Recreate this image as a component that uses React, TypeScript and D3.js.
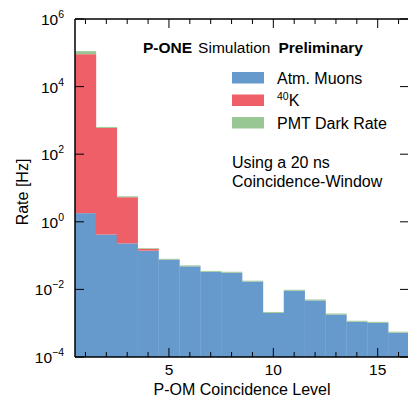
import * as d3 from "d3";

const levels = [1, 2, 3, 4, 5, 6, 7, 8, 9, 10, 11, 12, 13, 14, 15, 16];
const muons = [1.8, 0.42, 0.23, 0.14, 0.076, 0.048, 0.033, 0.031, 0.017, 0.002, 0.0091, 0.0047, 0.0018, 0.0011, 0.00102, 0.00052];
const k40 = [91000, 600, 5.1, 0.018, 0.0004, 0.0003, 0.0002, 0.0002, 0.0001, 0.00002, 0.00005, 0.00003, 0.00001, 0.00001, 0.00001, 0.000005];
const dark = [21000, 40, 0.35, 0.008, 0.004, 0.003, 0.002, 0.002, 0.001, 0.00013, 0.0006, 0.0003, 0.00012, 0.00007, 0.00007, 0.000035];

const series = [
  { name: "Atm. Muons", values: muons, color: "#6699cc" },
  { name: "40K", values: k40, color: "#ee5f67" },
  { name: "PMT Dark Rate", values: dark, color: "#99c794" },
];

const yTicks = [6, 4, 2, 0, -2, -4];
const xMajor = [5, 10, 15];

const W = 408;
const H = 401;
const font = "'Liberation Sans', Arial, sans-serif";

export default function App() {
  const x = d3.scaleLinear().domain([0.5, 16.5]).range([75, 409]);
  const y = d3.scaleLog().domain([1e-4, 1e6]).range([357, 19]);
  const [left, right] = x.range();
  const [bottom, top] = y.range();

  // stack the series bin by bin
  const cum = levels.map(() => 1e-4);
  const bars: { x0: number; x1: number; y0: number; y1: number; color: string }[] = [];
  series.forEach((s, si) => {
    levels.forEach((lv, i) => {
      const base = cum[i];
      const upper = si === 0 ? s.values[i] : base + s.values[i];
      bars.push({ x0: x(lv - 0.5), x1: x(lv + 0.5), y0: y(base), y1: y(upper), color: s.color });
      cum[i] = upper;
    });
  });

  return (
    <svg width={W} height={H} style={{ position: "absolute", left: 0, top: 0, fontFamily: font }}>
      <rect width={W} height={H} fill="#fff" />
      {bars.map((b, i) => (
        <rect key={i} x={b.x0} y={b.y1} width={b.x1 - b.x0 + 0.3} height={Math.max(0, b.y0 - b.y1)} fill={b.color} />
      ))}
      <line x1={left} x2={left} y1={top} y2={bottom} stroke="#000" strokeWidth={1.5} />
      <line x1={left} x2={right} y1={bottom} y2={bottom} stroke="#000" strokeWidth={1.5} />
      <line x1={left} x2={right} y1={top} y2={top} stroke="#000" strokeWidth={1.5} />
      <line x1={right} x2={right} y1={top} y2={bottom} stroke="#000" strokeWidth={1.5} />
      {levels.map((lv) => {
        const len = xMajor.includes(lv) ? 9 : 5;
        return (
          <g key={lv}>
            <line x1={x(lv)} x2={x(lv)} y1={bottom} y2={bottom - len} stroke="#000" strokeWidth={1} />
            <line x1={x(lv)} x2={x(lv)} y1={top} y2={top + len} stroke="#000" strokeWidth={1} />
          </g>
        );
      })}
      {xMajor.map((v) => (
        <text key={v} x={x(v)} y={375} fontSize={15.5} textAnchor="middle">{v}</text>
      ))}
      {yTicks.map((e) => (
        <g key={e}>
          <line x1={left} x2={left + 9} y1={y(10 ** e)} y2={y(10 ** e)} stroke="#000" strokeWidth={1} />
          <line x1={right - 9} x2={right} y1={y(10 ** e)} y2={y(10 ** e)} stroke="#000" strokeWidth={1} />
          <text x={64} y={y(10 ** e) + 6} fontSize={15.5} textAnchor="end">
            10<tspan dy={-7} fontSize={10.5}>{e < 0 ? `\u2212${-e}` : e}</tspan>
          </text>
        </g>
      ))}
      <text x={(left + right) / 2} y={395} fontSize={16} textAnchor="middle">P-OM Coincidence Level</text>
      <text transform={`translate(28,${(top + bottom) / 2 + 4}) rotate(-90)`} fontSize={16} textAnchor="middle">Rate [Hz]</text>

      <text x={143} y={53} fontSize={15.5}>
        <tspan fontWeight="bold">P-ONE</tspan>
        <tspan dx={6}>Simulation</tspan>
        <tspan dx={8} fontWeight="bold">Preliminary</tspan>
      </text>
      {series.map((s, i) => (
        <g key={s.name} transform={`translate(232,${72 + i * 22.5})`}>
          <rect width={32} height={11.5} fill={s.color} />
          <text x={45} y={11.5} fontSize={16}>
            {s.name === "40K" ? (
              <>
                <tspan dy={-6} fontSize={10.5}>40</tspan>
                <tspan dy={6}>K</tspan>
              </>
            ) : (
              s.name
            )}
          </text>
        </g>
      ))}
      <text x={232} y={168} fontSize={16}>Using a 20 ns</text>
      <text x={232} y={187} fontSize={16}>Coincidence-Window</text>
    </svg>
  );
}
